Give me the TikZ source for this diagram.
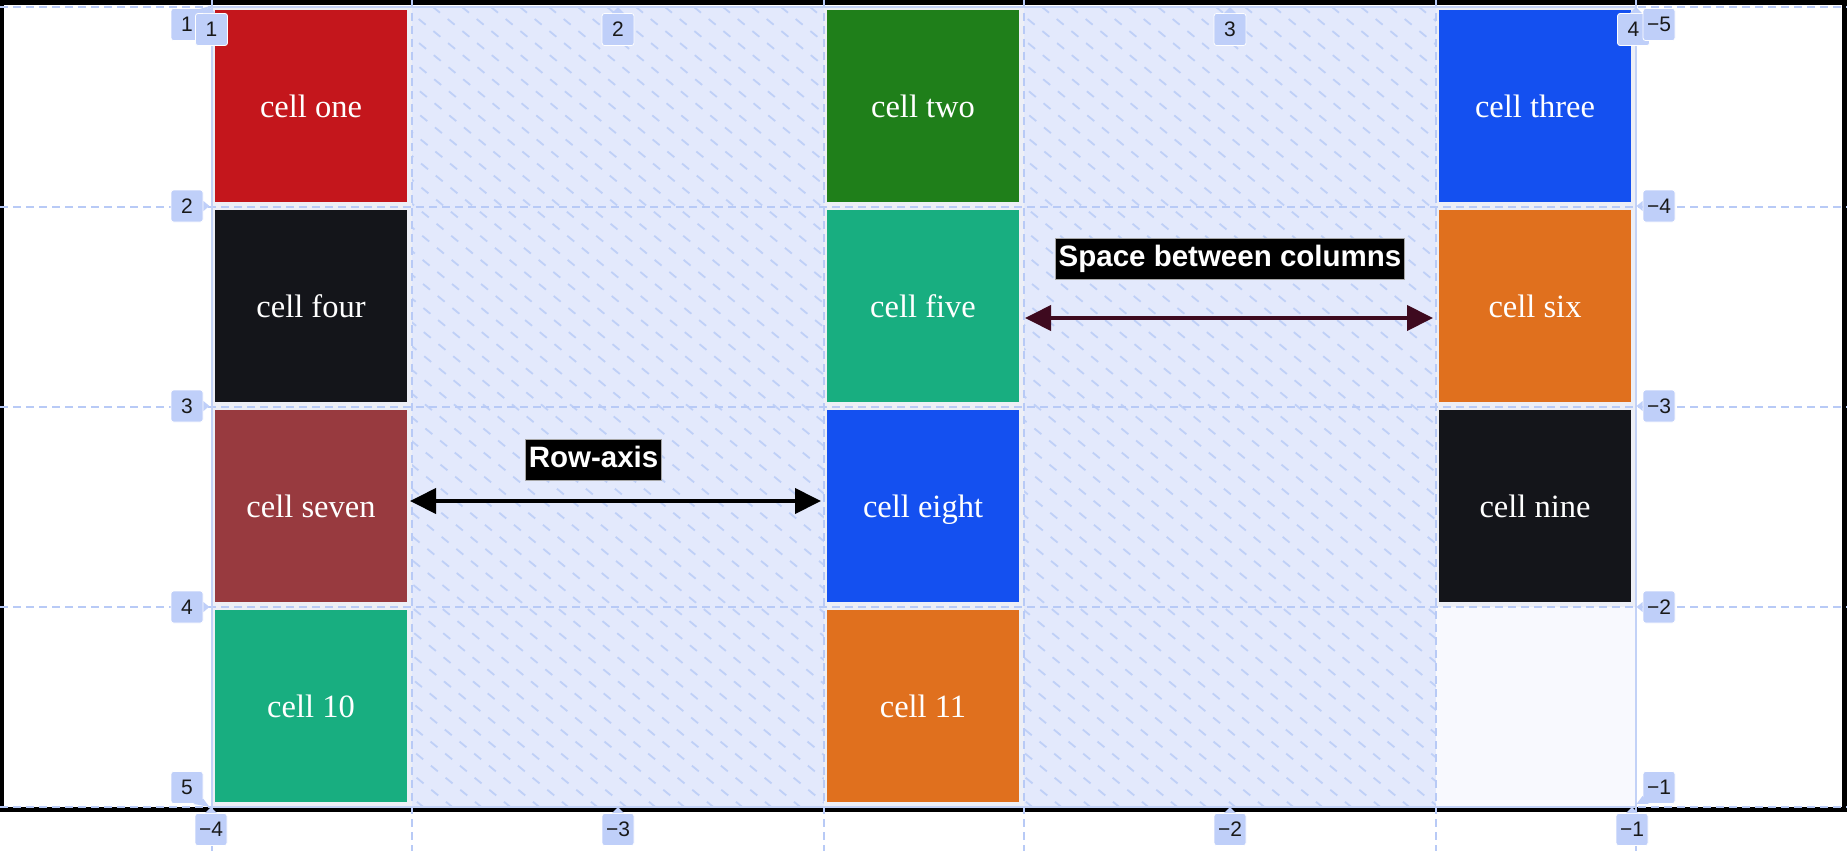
\documentclass[tikz,border=0pt]{standalone}
\usepackage{fontspec}
\setmainfont{Liberation Serif}
\newfontfamily\labelsans{Liberation Sans}
\usetikzlibrary{arrows.meta}
\definecolor{cred}{HTML}{C4161C}
\definecolor{cgreen}{HTML}{1F7F1A}
\definecolor{cblue}{HTML}{1450F0}
\definecolor{cdark}{HTML}{14151A}
\definecolor{cteal}{HTML}{18AE80}
\definecolor{corange}{HTML}{E0701E}
\definecolor{cmaroon}{HTML}{983A3F}
\definecolor{gapfill}{HTML}{E3E9FC}
\definecolor{hatchc}{HTML}{BFD0F7}
\definecolor{gridc}{HTML}{B8CAF6}
\definecolor{cellgap}{HTML}{EDEFF6}
\definecolor{gridbg}{HTML}{F8F9FE}
\definecolor{tagblue}{HTML}{BFCFF9}
\definecolor{arrowdark}{HTML}{3E0A1F}
\begin{document}
\begin{tikzpicture}[x=1pt,y=-1pt,
  cellbox/.style={minimum width=192, minimum height=192, inner sep=0, text=white,
    text height=22, text depth=0, font=\fontsize{32.5}{38}\selectfont},
  trackbg/.style={fill=cellgap},
  gridline/.style={draw=gridc, line width=1.8, dash pattern=on 8 off 5},
  gridsolid/.style={draw=gridc!85!white, line width=2},
  hatchline/.style={draw=hatchc, line width=1.8, dash pattern=on 9 off 10},
  tagbox/.style={fill=tagblue, draw=white, line width=0.8, rounded corners=2.5,
    minimum width=32, minimum height=32, inner sep=0, text=black!90,
    font=\labelsans\fontsize{21}{24}\selectfont},
  ptr/.style={fill=tagblue},
  axislabel/.style={fill=black, draw=gray!70, line width=0.8, text=white, inner xsep=3,
    inner ysep=0, minimum height=41, text height=21, text depth=6,
    font=\labelsans\bfseries\fontsize{29.5}{34}\selectfont},
  dimarrow/.style={line width=4, {Triangle[length=26,width=25]}-{Triangle[length=26,width=25]}}
]
\useasboundingbox (0,0) rectangle (1847,851);
\fill[white] (0,0) rectangle (1847,851);
% outer black frame
\fill[black] (0,0) rectangle (1847,812);
\fill[white] (4,5) rectangle (1842,807);

% grid container background
\fill[gridbg] (212,7) rectangle (1636,807);

% gap columns with hatching
\fill[gapfill] (412,7) rectangle (824,807);
\fill[gapfill] (1024,7) rectangle (1436,807);
\begin{scope}
  \clip (412,7) rectangle (824,807) (1024,7) rectangle (1436,807);
  \foreach \k in {0,...,72} {
    \draw[hatchline] ({-640+29*\k},7) -- ++(980,803);
  }
\end{scope}

% track backgrounds of filled cells
\foreach \x/\y in {212/7,824/7,1436/7,212/207,824/207,1436/207,212/407,824/407,1436/407,212/607,824/607} {
  \fill[trackbg] (\x,\y) rectangle ++(200,200);
}

% cells
\node[cellbox, fill=cred]    (c1)  at (311,106) {cell one};
\node[cellbox, fill=cgreen]  (c2)  at (923,106) {cell two};
\node[cellbox, fill=cblue]   (c3)  at (1535,106) {cell three};
\node[cellbox, fill=cdark]   (c4)  at (311,306) {cell four};
\node[cellbox, fill=cteal]   (c5)  at (923,306) {cell five};
\node[cellbox, fill=corange] (c6)  at (1535,306) {cell six};
\node[cellbox, fill=cmaroon] (c7)  at (311,506) {cell seven};
\node[cellbox, fill=cblue]   (c8)  at (923,506) {cell eight};
\node[cellbox, fill=cdark]   (c9)  at (1535,506) {cell nine};
\node[cellbox, fill=cteal]   (c10) at (311,706) {cell 10};
\node[cellbox, fill=corange] (c11) at (923,706) {cell 11};

% dashed grid lines
\foreach \y in {7,207,407,607,807} {
  \draw[gridline] (0,\y) -- (1847,\y);
}
\foreach \x in {212,412,824,1024,1436,1636} {
  \draw[gridline] (\x,0) -- (\x,851);
}
% container border
\draw[gridsolid] (212,7) rectangle (1636,807);

% dimension arrows and labels
\coordinate (ra1) at (410,501);
\coordinate (ra2) at (821,501);
\coordinate (sb1) at (1025,318);
\coordinate (sb2) at (1433,318);
\draw[dimarrow, draw=black, fill=black] (ra1) -- (ra2);
\draw[dimarrow, draw=arrowdark, fill=arrowdark] (sb1) -- (sb2);
\node[axislabel] (lrow) at (593.5,459.5) {Row-axis};
\node[axislabel] (lspace) at (1230,259) {Space between columns};

% row line tags, left
\node[tagbox] (l1) at (187,24.5) {1};
\fill[ptr] (l1.north east) ++(-4,1) -- ++(10,-3) -- ++(-6,8) -- cycle;
\node[tagbox] (l2) at (187,206) {2};
\fill[ptr] (l2.east) ++(0,-5) -- ++(6,5) -- ++(-6,5) -- cycle;
\node[tagbox] (l3) at (187,406) {3};
\fill[ptr] (l3.east) ++(0,-5) -- ++(6,5) -- ++(-6,5) -- cycle;
\node[tagbox] (l4) at (187,607) {4};
\fill[ptr] (l4.east) ++(0,-5) -- ++(6,5) -- ++(-6,5) -- cycle;
\node[tagbox] (l5) at (187,787.5) {5};
\fill[ptr] (l5.south east) ++(-10,0) -- ++(16,3) -- ++(-6,-8) -- cycle;

% row line tags, right
\node[tagbox] (r5) at (1659,787.5) {−1};
\fill[ptr] (r5.south west) ++(0,-8) -- ++(-6,8) -- ++(12,0) -- cycle;
\node[tagbox] (r4) at (1659,607) {−2};
\fill[ptr] (r4.west) ++(0,-5) -- ++(-6,5) -- ++(6,5) -- cycle;
\node[tagbox] (r3) at (1659,406) {−3};
\fill[ptr] (r3.west) ++(0,-5) -- ++(-6,5) -- ++(6,5) -- cycle;
\node[tagbox] (r2) at (1659,206) {−4};
\fill[ptr] (r2.west) ++(0,-5) -- ++(-6,5) -- ++(6,5) -- cycle;

% column line tags, top
\node[tagbox] (t1) at (211.5,29.5) {1};
\fill[ptr] (t1.north west) ++(8,0) -- ++(6,-6) -- ++(6,6) -- cycle;
\node[tagbox] (t2) at (618,29.5) {2};
\fill[ptr] (t2.north) ++(-6,0) -- ++(6,-6) -- ++(6,6) -- cycle;
\node[tagbox] (t3) at (1230,29.5) {3};
\fill[ptr] (t3.north) ++(-6,0) -- ++(6,-6) -- ++(6,6) -- cycle;
\node[tagbox] (t4) at (1633.5,29.5) {4};
\fill[ptr] (t4.north east) ++(-20,0) -- ++(6,-6) -- ++(6,6) -- cycle;
\node[tagbox] (r1) at (1659,24.5) {−5};

% column line tags, bottom
\node[tagbox] (b1) at (211,829.5) {−4};
\fill[ptr] (b1.north) ++(-6,0) -- ++(6,-6) -- ++(6,6) -- cycle;
\node[tagbox] (b2) at (618,829.5) {−3};
\fill[ptr] (b2.north) ++(-6,0) -- ++(6,-6) -- ++(6,6) -- cycle;
\node[tagbox] (b3) at (1230,829.5) {−2};
\fill[ptr] (b3.north) ++(-6,0) -- ++(6,-6) -- ++(6,6) -- cycle;
\node[tagbox] (b4) at (1632,829.5) {−1};
\fill[ptr] (b4.north) ++(-6,0) -- ++(6,-6) -- ++(6,6) -- cycle;
\end{tikzpicture}
\end{document}
